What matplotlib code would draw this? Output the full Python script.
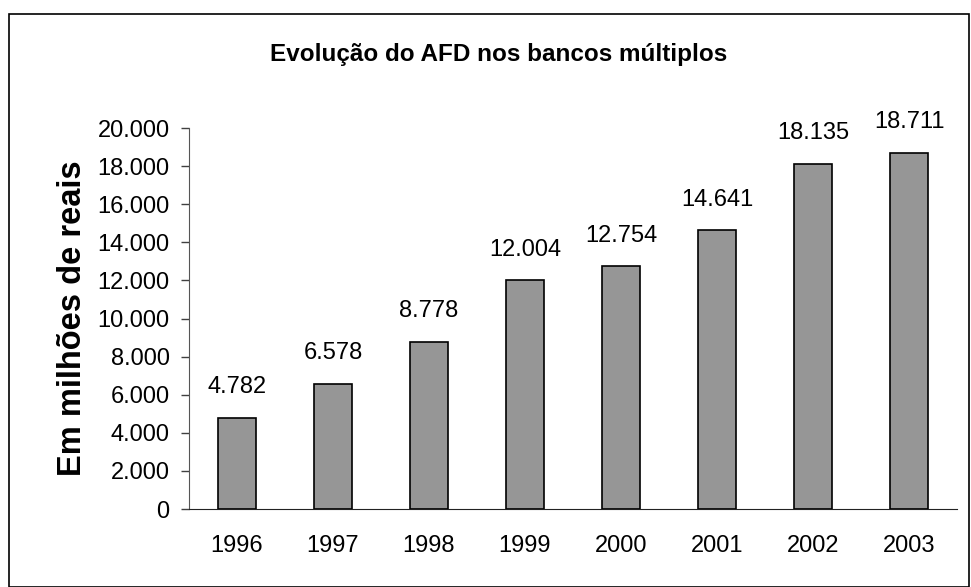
import matplotlib
matplotlib.use("Agg")
import matplotlib.pyplot as plt
from matplotlib.patches import Rectangle
from matplotlib.ticker import FuncFormatter

years = ["1996", "1997", "1998", "1999", "2000", "2001", "2002", "2003"]
values = [4782, 6578, 8778, 12004, 12754, 14641, 18135, 18711]
yticks = [0, 2000, 4000, 6000, 8000, 10000, 12000, 14000, 16000, 18000, 20000]

plt.rcParams['font.family'] = ['Liberation Sans', 'DejaVu Sans']

W, H = 971, 587
fig = plt.figure(figsize=(W/100, H/100), dpi=100)
ax = fig.add_axes([189/W, 1-509/H, (957-189)/W, (509-128)/H])

def fmt(v):
    return f"{int(v):,}".replace(",", ".")

x = list(range(len(years)))
ax.bar(x, values, width=0.4, color="#969696", edgecolor="black", linewidth=1.2)
for xi, v in zip(x, values):
    ax.annotate(fmt(v), (xi, v), xytext=(0, 14), textcoords="offset points",
                ha="center", va="bottom", fontsize=17)

ax.set_xlim(-0.5, len(years) - 0.5)
ax.set_ylim(0, 20000)
ax.set_yticks(yticks)
ax.yaxis.set_major_formatter(FuncFormatter(lambda v, p: fmt(v)))
ax.set_xticks(x)
ax.set_xticklabels(years)
ax.tick_params(axis="x", length=0, pad=19, labelsize=17)
ax.tick_params(axis="y", length=6, width=1, color="#404040", pad=8, labelsize=17)
for s in ["top", "right"]:
    ax.spines[s].set_visible(False)
ax.spines["left"].set_color("#555555")
ax.spines["bottom"].set_color("#222222")
ax.set_ylabel("Em milhões de reais", fontsize=23.5, fontweight="bold")
ax.yaxis.set_label_coords((72 - 189) / (957 - 189), 0.5)
ax.yaxis.label.set_va("center")

fig.text((268 + 730) / 2 / W, 1 - 55/H, "Evolução do AFD nos bancos múltiplos",
         ha="center", va="center", fontsize=17.5, fontweight="bold")

fig.patches.append(Rectangle((9/W, 0), (969-9)/W, 1 - 14/H, transform=fig.transFigure,
                             fill=False, edgecolor="black", linewidth=1.2))

fig.savefig("out.png", dpi=100)
